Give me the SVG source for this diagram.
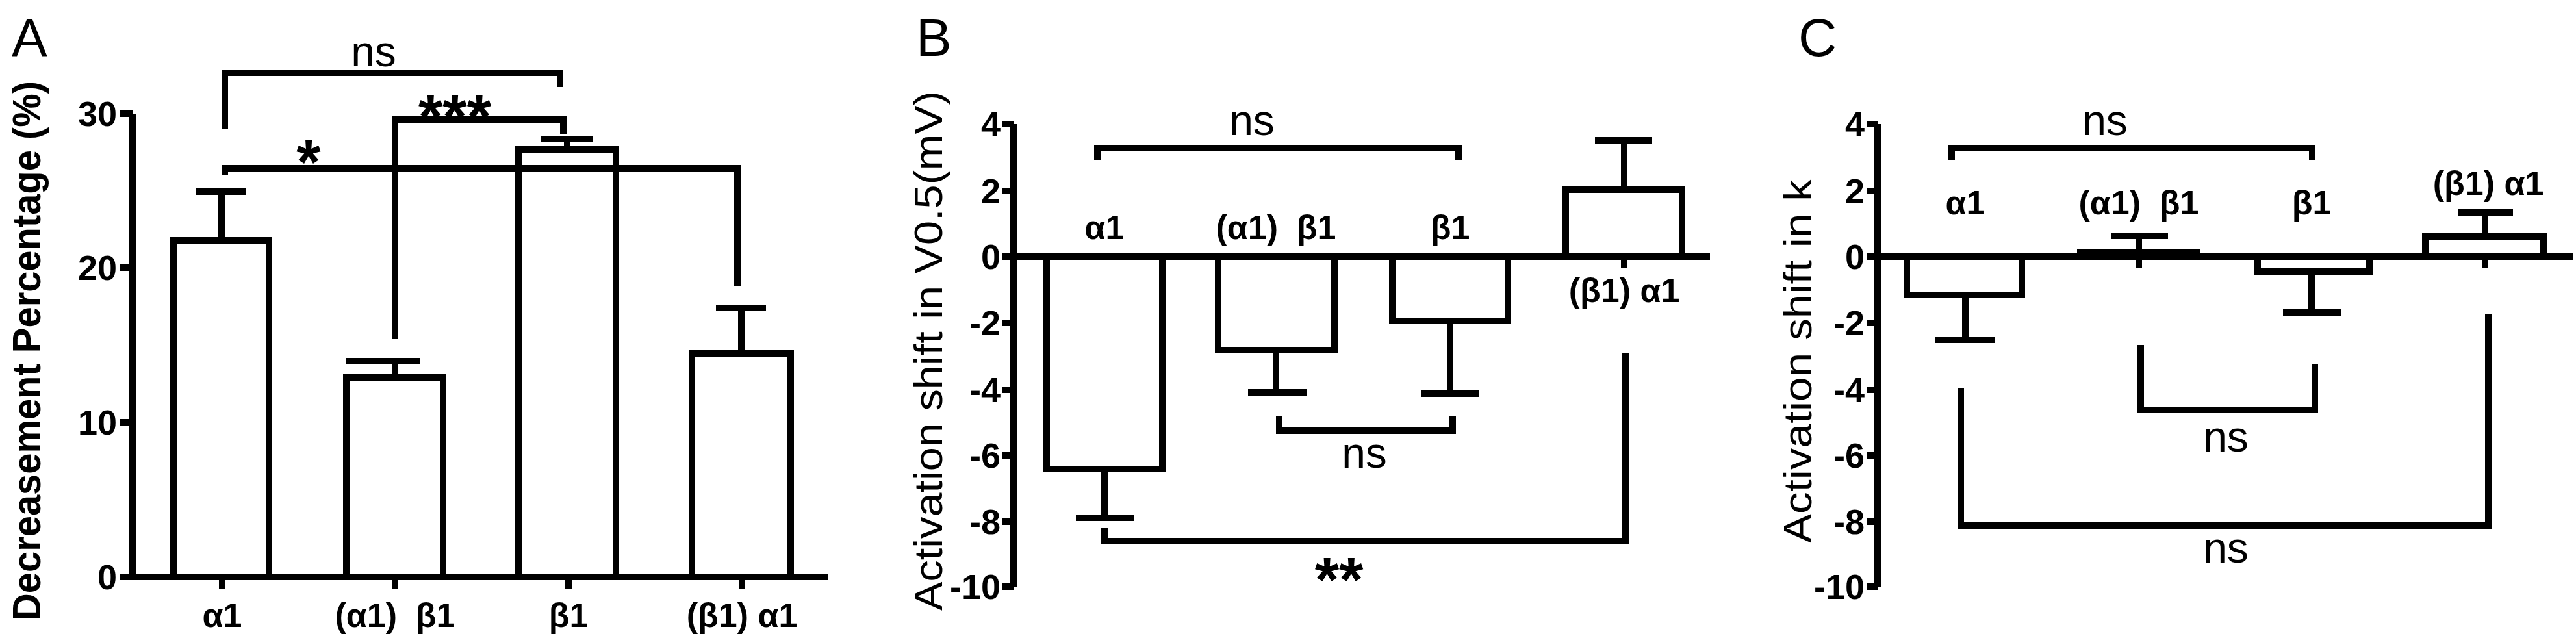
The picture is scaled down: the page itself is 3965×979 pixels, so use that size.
<svg xmlns="http://www.w3.org/2000/svg" width="3965" height="979" viewBox="0 0 3965 979">
<style>
.ln{stroke:#000;stroke-width:10;fill:none;stroke-linecap:butt}
.bar{stroke:#000;stroke-width:10;fill:#fff}
text{white-space:pre}
.tk{font-family:"Liberation Sans",Arial,sans-serif;font-weight:bold;font-size:54px;text-anchor:end}
.xl{font-family:"Liberation Sans",Arial,sans-serif;font-weight:bold;font-size:52px;text-anchor:middle}
.ns{font-family:"Liberation Sans",Arial,sans-serif;font-size:66px;text-anchor:middle}
.st{font-family:"Liberation Sans",Arial,sans-serif;font-weight:bold;font-size:96px;text-anchor:middle}
.pl{font-family:"Liberation Sans",Arial,sans-serif;font-size:82px}
.yl{font-family:"Liberation Sans",Arial,sans-serif;font-size:62px;text-anchor:middle}
</style>
<rect width="3965" height="979" fill="#fff"/>
<g id="panelA">
<text class="pl" x="18" y="86">A</text>
<text class="yl" font-weight="bold" transform="translate(62,540) rotate(-90)" textLength="830" lengthAdjust="spacingAndGlyphs" font-size="58">Decreasement Percentage (%)</text>
<path class="ln" d="M204,175V888H1275M185,175H204M185,412H204M185,650H204M185,888H204M342,888V906M608,888V906M875,888V906M1142,888V906"/>
<text class="tk" x="180" y="194">30</text><text class="tk" x="180" y="431">20</text><text class="tk" x="180" y="669">10</text><text class="tk" x="180" y="907">0</text>
<rect class="bar" x="267" y="370" width="147" height="518"/>
<rect class="bar" x="533" y="581" width="149" height="307"/>
<rect class="bar" x="798" y="230" width="150" height="658"/>
<rect class="bar" x="1065" y="544" width="152" height="344"/>
<path class="ln" d="M341,370V295M302,295H379M608,581V556M533,556H646M873,230V214M833,214H912M1141,544V474M1102,474H1179"/>
<text class="xl" x="342" y="965">α1</text><text class="xl" x="608" y="965">(α1)  β1</text><text class="xl" x="875" y="965">β1</text><text class="xl" x="1142" y="965">(β1) α1</text>
<path class="ln" d="M346,199V112H862V134M608,522V184H867V206M346,269V259H1135V441"/>
<text class="ns" x="575" y="102">ns</text>
<text class="st" x="700" y="212">***</text>
<text class="st" x="475" y="282">*</text>
</g>
<g id="panelB">
<text class="pl" x="1410" y="86">B</text>
<text class="yl" transform="translate(1450,540) rotate(-90)" textLength="800" lengthAdjust="spacingAndGlyphs">Activation shift in V0.5(mV)</text>
<path class="ln" d="M1560,191V903M1543,191H1560M1543,294H1560M1543,395H1560M1543,497H1560M1543,600H1560M1543,701H1560M1543,803H1560M1543,903H1560M1560,395H2632M1700,395V412M1964,395V412M2232,395V412M2500,395V412"/>
<text class="tk" x="1540" y="210">4</text><text class="tk" x="1540" y="313">2</text><text class="tk" x="1540" y="414">0</text><text class="tk" x="1540" y="516">-2</text><text class="tk" x="1540" y="619">-4</text><text class="tk" x="1540" y="720">-6</text><text class="tk" x="1540" y="822">-8</text><text class="tk" x="1540" y="922">-10</text>
<rect class="bar" x="1611" y="395" width="178" height="327"/>
<rect class="bar" x="1875" y="395" width="179" height="144"/>
<rect class="bar" x="2143" y="395" width="178" height="99"/>
<rect class="bar" x="2410" y="292" width="179" height="103"/>
<path class="ln" d="M1700,722V797M1656,797H1745M1964,539V604M1921,604H2012M2232,494V606M2187,606H2277M2500,292V216M2455,216H2543"/>
<text class="xl" x="1700" y="368">α1</text><text class="xl" x="1964" y="368">(α1)  β1</text><text class="xl" x="2232" y="368">β1</text><text class="xl" x="2500" y="465">(β1) α1</text>
<path class="ln" d="M1689,247V228H2245V247M1969,641V663H2236V641M1700,813V833H2502V544"/>
<text class="ns" x="1927" y="208">ns</text>
<text class="ns" x="2100" y="720">ns</text>
<text class="st" x="2061" y="925">**</text>
</g>
<g id="panelC">
<text class="pl" x="2768" y="86">C</text>
<text class="yl" transform="translate(2788,556) rotate(-90)" textLength="560" lengthAdjust="spacingAndGlyphs">Activation shift in k</text>
<path class="ln" d="M2890,191V903M2873,191H2890M2873,294H2890M2873,395H2890M2873,497H2890M2873,600H2890M2873,701H2890M2873,803H2890M2873,903H2890M2890,395H3961M3025,395V412M3292,395V412M3558,395V412M3825,395V412"/>
<text class="tk" x="2870" y="210">4</text><text class="tk" x="2870" y="313">2</text><text class="tk" x="2870" y="414">0</text><text class="tk" x="2870" y="516">-2</text><text class="tk" x="2870" y="619">-4</text><text class="tk" x="2870" y="720">-6</text><text class="tk" x="2870" y="822">-8</text><text class="tk" x="2870" y="922">-10</text>
<rect class="bar" x="2935" y="395" width="177" height="59"/>
<rect class="bar" x="3202" y="389" width="179" height="6"/>
<rect class="bar" x="3475" y="395" width="172" height="23"/>
<rect class="bar" x="3733" y="364" width="182" height="31"/>
<path class="ln" d="M3025,454V523M2979,523H3070M3292,389V363M3249,363H3337M3558,418V481M3514,481H3603M3825,364V327M3784,327H3868"/>
<text class="xl" x="3025" y="330">α1</text><text class="xl" x="3292" y="330">(α1)  β1</text><text class="xl" x="3558" y="330">β1</text><text class="xl" x="3830" y="300">(β1) α1</text>
<path class="ln" d="M3004,247V228H3559V247M3295,531V631H3563V561M3018,598V809H3830V484"/>
<text class="ns" x="3240" y="208">ns</text>
<text class="ns" x="3426" y="695">ns</text>
<text class="ns" x="3426" y="866">ns</text>
</g>
</svg>
